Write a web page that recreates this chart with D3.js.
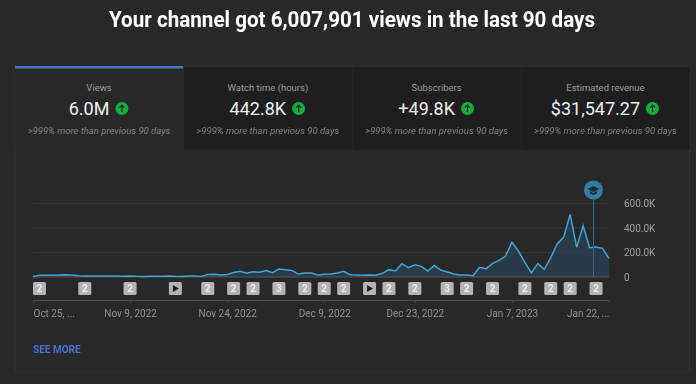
<!DOCTYPE html>
<html>
<head>
<meta charset="utf-8">
<script src="https://cdn.jsdelivr.net/npm/d3@7"></script>
<style>
  html, body { margin: 0; padding: 0; background: #282828; }
  svg { display: block; font-family: Roboto, sans-serif; }
</style>
</head>
<body>
<div id="chart"></div>
<script>
const titleText = "Your channel got 6,007,901 views in the last 90 days";

// tabs
const tabNames = ["Views", "Watch time (hours)", "Subscribers", "Estimated revenue"];
const tabValues = ["6.0M", "442.8K", "+49.8K", "$31,547.27"];
const tabNote = ">999% more than previous 90 days";

// daily views in thousands, Oct 25 2022 onwards
const dailyViews = [
    5, 14, 15, 14, 17, 19, 16, 10, 8, 8,
    8, 8, 8, 8, 7, 9, 6, 5, 6, 6,
    6, 9, 6, 5, 8, 8, 5, 20, 22, 17,
    21, 37, 46, 30, 43, 38, 52, 35, 65, 60,
    54, 24, 33, 33, 16, 22, 24, 33, 46, 19,
    16, 14, 16, 14, 30, 60, 49, 109, 76, 100,
    87, 49, 95, 57, 41, 24, 16, 16, 11, 79,
    68, 109, 136, 169, 283, 212, 120, 33, 109, 63,
    158, 269, 326, 511, 242, 419, 239, 245, 234, 152
];

const yTicks = [0, 200, 400, 600];
const yTickLabels = ["0", "200.0K", "400.0K", "600.0K"];

// day index -> label
const xTickDays = [0, 15, 30, 45, 59, 74, 89];
const xTickLabels = ["Oct 25, ...", "Nov 9, 2022", "Nov 24, 2022", "Dec 9, 2022", "Dec 23, 2022", "Jan 7, 2023", "Jan 22, ..."];

// video markers under the line, "p" is the play icon
const markerDays = [1, 8, 15, 22, 27, 31, 34, 38, 42, 45, 48, 52, 55, 59, 64, 67, 71, 76, 80, 83, 87];
const markerLabels = ["2", "2", "2", "p", "2", "2", "2", "3", "2", "2", "2", "p", "2", "2", "3", "2", "2", "2", "2", "2", "2"];

const milestoneDay = 86.6;

const width = 696, height = 384;

const svg = d3.select("#chart").append("svg")
    .attr("width", width)
    .attr("height", height)
    .style("filter", "blur(0.5px)");

// title is a bit condensed in the original
svg.append("text")
    .attr("x", 352).attr("y", 27)
    .attr("text-anchor", "middle")
    .attr("fill", "#fff")
    .attr("textLength", 486)
    .attr("lengthAdjust", "spacingAndGlyphs")
    .style("font-size", "22px")
    .style("font-weight", 700)
    .text(titleText);

// panel outline
svg.append("rect")
    .attr("x", 15).attr("y", 67)
    .attr("width", 674.5).attr("height", 304)
    .attr("rx", 2)
    .attr("fill", "none")
    .attr("stroke", "#333");

// tab strip
const tabX = d3.scaleBand().domain(tabNames).range([15, 689.5]).paddingInner(0.004);

const tabs = svg.selectAll(".tab")
    .data(tabNames)
    .enter().append("g")
    .attr("class", "tab")
    .attr("transform", d => "translate(" + tabX(d) + ",67)");

tabs.append("rect")
    .attr("width", tabX.bandwidth())
    .attr("height", 83)
    .attr("fill", (d, i) => i === 0 ? "#282828" : "#1e1e1e");

svg.append("rect")
    .attr("x", 15).attr("y", 66)
    .attr("width", tabX.bandwidth()).attr("height", 2.5)
    .attr("fill", "#4a74c9");

tabs.append("text")
    .attr("x", tabX.bandwidth() / 2).attr("y", 24)
    .attr("text-anchor", "middle")
    .attr("fill", "#9a9a9a")
    .style("font-size", "9.5px")
    .text(d => d);

// big value + green arrow, measured together so they stay centered
tabs.each(function(d, i) {
    let g = d3.select(this);
    let t = g.append("text")
        .attr("y", 48)
        .attr("fill", "#f1f1f1")
        .style("font-size", "18px")
        .text(tabValues[i]);
    let w = t.node().getComputedTextLength();
    let left = tabX.bandwidth() / 2 - (w + 20) / 2;
    t.attr("x", left);
    let arrow = g.append("g").attr("transform", "translate(" + (left + w + 12.5) + ",41.5)");
    arrow.append("circle").attr("r", 6.5).attr("fill", "#0fae3c");
    arrow.append("path").attr("d", "M0,3.5V-3M-2.4,-0.8L0,-3.4L2.4,-0.8")
        .attr("fill", "none").attr("stroke", "#123").attr("stroke-width", 1.2);
});

tabs.append("text")
    .attr("x", tabX.bandwidth() / 2).attr("y", 67)
    .attr("text-anchor", "middle")
    .attr("fill", "#808080")
    .style("font-size", "9.5px")
    .style("font-style", "italic")
    .text(tabNote);

// chart
const x = d3.scaleLinear().domain([0, 89]).range([33, 609]);
const y = d3.scaleLinear().domain([0, 600]).range([277, 203.5]);

svg.append("g")
    .selectAll("line")
    .data(yTicks.slice(1))
    .enter().append("line")
    .attr("x1", x(0)).attr("x2", x(89))
    .attr("y1", d => y(d)).attr("y2", d => y(d))
    .attr("stroke", "#383838");

const yAxis = d3.axisRight(y)
    .tickValues(yTicks)
    .tickSize(0)
    .tickPadding(0)
    .tickFormat((d, i) => yTickLabels[i]);

svg.append("g")
    .attr("transform", "translate(624,0)")
    .call(yAxis)
    .call(g => g.select(".domain").remove())
    .selectAll("text")
    .attr("fill", "#a0a0a0")
    .style("font-family", "Roboto, sans-serif")
    .style("font-size", "10px");

const area = d3.area()
    .x((d, i) => x(i))
    .y0(y(0))
    .y1(d => y(d));

const line = d3.line()
    .x((d, i) => x(i))
    .y(d => y(d));

svg.append("path")
    .datum(dailyViews)
    .attr("d", area)
    .attr("fill", "#2a4355")
    .attr("fill-opacity", 0.7);

svg.append("line")
    .attr("x1", x(0)).attr("x2", x(89))
    .attr("y1", y(0)).attr("y2", y(0))
    .attr("stroke", "#555");

svg.append("path")
    .datum(dailyViews)
    .attr("d", line)
    .attr("fill", "none")
    .attr("stroke", "#3ea6d4")
    .attr("stroke-width", 1.5);

// milestone line and badge
svg.append("line")
    .attr("x1", x(milestoneDay)).attr("x2", x(milestoneDay))
    .attr("y1", 196).attr("y2", y(0))
    .attr("stroke", "#2f6f8c");

const badge = svg.append("g")
    .attr("transform", "translate(" + x(milestoneDay) + ",190)");
badge.append("circle").attr("r", 9.5).attr("fill", "#2f7fa3");
badge.append("path").attr("d", "M-6,-1L0,-4L6,-1L0,2Z M-3.5,1V3.5L0,5L3.5,3.5V1L0,3Z").attr("fill", "#1d2a33");

// video markers
const markers = svg.selectAll(".marker")
    .data(markerDays)
    .enter().append("g")
    .attr("class", "marker")
    .attr("transform", d => "translate(" + x(d) + ",288.5)");

markers.append("rect")
    .attr("x", -6.5).attr("y", -6.5)
    .attr("width", 13).attr("height", 13)
    .attr("rx", 1.5)
    .attr("fill", "#b3b3b3");

markers.filter((d, i) => markerLabels[i] !== "p").append("text")
    .attr("text-anchor", "middle")
    .attr("y", 3.5)
    .attr("fill", "#ececec")
    .style("font-size", "10px")
    .style("font-weight", 700)
    .text(d => markerLabels[markerDays.indexOf(d)]);

markers.filter((d, i) => markerLabels[i] === "p").append("path")
    .attr("d", "M-2.5,-3.5L3.5,0L-2.5,3.5Z")
    .attr("fill", "#1c1c1c");

// x axis
const xAxis = d3.axisBottom(x)
    .tickValues(xTickDays)
    .tickSize(2)
    .tickPadding(7.5)
    .tickFormat((d, i) => xTickLabels[i]);

svg.append("g")
    .attr("transform", "translate(0,300.5)")
    .call(xAxis)
    .call(g => g.select(".domain").attr("stroke", "#4a4a4a").attr("d", "M33,0H609"))
    .call(g => g.selectAll(".tick line").attr("stroke", "#4a4a4a"))
    .selectAll("text")
    .attr("fill", "#8f8f8f")
    .style("font-family", "Roboto, sans-serif")
    .style("font-size", "10px")
    .attr("text-anchor", (d, i) => i === 0 ? "start" : (i === xTickDays.length - 1 ? "end" : "middle"));

svg.append("text")
    .attr("x", 33).attr("y", 353)
    .attr("fill", "#4a6fd8")
    .style("font-size", "10px")
    .style("font-weight", 700)
    .text("SEE MORE");
</script>
</body>
</html>
